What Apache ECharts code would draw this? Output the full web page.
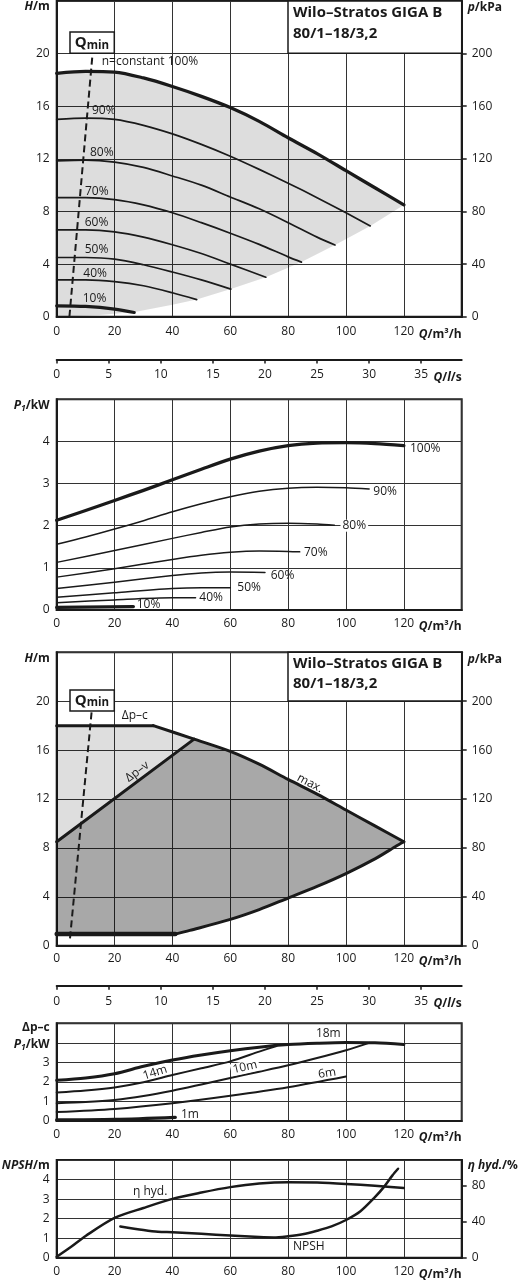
<!DOCTYPE html>
<html><head><meta charset="utf-8">
<script src="https://cdn.jsdelivr.net/npm/echarts@6/dist/echarts.min.js"></script>
<style>html,body{margin:0;padding:0;background:#fff}#c{width:525px;height:1280px}</style>
</head><body><div id="c"></div>
<script>
// ---------- tick labels ----------
const qM3hTicks = [0, 20, 40, 60, 80, 100, 120];
const qLsTicks = [0, 5, 10, 15, 20, 25, 30, 35];
const hTicks = [0, 4, 8, 12, 16, 20];
const kPaTicks = [0, 40, 80, 120, 160, 200];
const p1Ticks = [0, 1, 2, 3, 4];
const p1SmallTicks = [0, 1, 2, 3];
const npshTicks = [0, 1, 2, 3, 4];
const etaTicks = [0, 40, 80];

// ---------- chart 1: H over Q for speeds (Q m3/h, H m) ----------
const h100 = [[0,18.5],[10,18.65],[20,18.6],[30,18.15],[40,17.5],[50,16.75],[60,15.9],[70,14.85],[80,13.6],[90,12.4],[100,11.1],[110,9.8],[120,8.5]];
const h90 = [[0,15.0],[10,15.1],[20,15.0],[30,14.55],[40,13.9],[50,13.1],[60,12.2],[70,11.2],[80,10.15],[90,9.05],[100,7.9],[108.4,6.9]];
const h80 = [[0,11.85],[10,11.9],[20,11.75],[30,11.35],[40,10.7],[50,10.0],[60,9.1],[70,8.2],[80,7.15],[90,6.05],[96.2,5.45]];
const h70 = [[0,9.05],[10,9.05],[20,8.9],[30,8.5],[40,7.9],[50,7.15],[60,6.35],[70,5.5],[80,4.55],[84.6,4.15]];
const h60 = [[0,6.6],[10,6.6],[20,6.45],[30,6.05],[40,5.47],[50,4.8],[60,4.0],[72.3,3.0]];
const h50 = [[0,4.5],[10,4.5],[20,4.38],[30,3.95],[40,3.4],[50,2.8],[60.2,2.1]];
const h40 = [[0,2.8],[10,2.8],[20,2.67],[30,2.35],[40,1.82],[48.4,1.3]];
const h10 = [[0,0.83],[10,0.78],[20,0.58],[26.8,0.32]];
const sysLower = [[0,0],[15,0.12],[27,0.35],[40,0.9],[48.4,1.3],[60.2,2.1],[72.3,3.0],[84.6,4.15],[96.2,5.45],[108.4,6.9],[120,8.5]];
const qmin1 = [[4.4,0],[12.4,20]];

// ---------- chart 2: P1 over Q for speeds (kW) ----------
const p100 = [[0,2.13],[10,2.36],[20,2.6],[30,2.84],[40,3.09],[50,3.34],[60,3.58],[70,3.77],[80,3.9],[90,3.96],[100,3.97],[110,3.95],[120,3.9]];
const p90 = [[0,1.56],[10,1.73],[20,1.92],[30,2.12],[40,2.33],[50,2.52],[60,2.69],[70,2.82],[80,2.89],[90,2.91],[100,2.9],[108,2.87]];
const p80 = [[0,1.13],[20,1.41],[40,1.7],[50,1.84],[60,1.97],[70,2.04],[80,2.06],[90,2.04],[96,2.01]];
const p70 = [[0,0.78],[20,0.98],[40,1.2],[50,1.3],[60,1.37],[70,1.4],[80,1.39],[84,1.38]];
const p60 = [[0,0.51],[20,0.66],[40,0.82],[50,0.88],[60,0.9],[72,0.89]];
const p50 = [[0,0.3],[20,0.41],[40,0.51],[50,0.53],[60,0.53]];
const p40 = [[0,0.17],[20,0.24],[40,0.29],[48,0.29]];
const p10 = [[0,0.06],[26.5,0.08]];

// ---------- chart 3: control modes ----------
const dpcLine = [[0,18],[33.4,18]];
const maxLine = [[33.4,18],[47.5,16.9],[60,15.9],[70,14.85],[80,13.6],[90,12.4],[100,11.1],[110,9.8],[120,8.5]];
const dpvLine = [[0,8.5],[47.5,16.9]];
const lowerLine = [[41,0.95],[46,1.25],[60,2.15],[70,2.95],[80,3.9],[90,4.85],[100,5.9],[110,7.1],[117,8.1],[120,8.5]];
const minLine = [[0,0.95],[41,0.95]];
const qmin3 = [[4.6,0.6],[12.1,19.2]];

// ---------- chart 4: P1 for dp-c setpoints ----------
const c18 = [[0,2.08],[10,2.2],[20,2.42],[30,2.8],[40,3.12],[50,3.38],[60,3.6],[70,3.78],[80,3.91],[90,3.98],[100,4.02],[110,4.0],[120,3.91]];
const c14 = [[0,1.46],[10,1.56],[20,1.72],[30,1.98],[40,2.35],[50,2.7],[60,3.05],[70,3.55],[76,3.84]];
const c10 = [[0,0.91],[10,0.97],[20,1.08],[30,1.28],[40,1.55],[50,1.87],[60,2.2],[70,2.52],[80,2.85],[90,3.22],[100,3.62],[108,4.0]];
const c6 = [[0,0.46],[20,0.62],[40,0.91],[60,1.29],[80,1.73],[100,2.28]];
const c1 = [[0,0.05],[20,0.08],[41,0.19]];

// ---------- chart 5: NPSH (m) and hydraulic efficiency (%) ----------
const npsh = [[22,1.6],[30,1.42],[35,1.33],[40,1.3],[50,1.22],[60,1.13],[70,1.06],[75,1.04],[80,1.1],[85,1.2],[90,1.38],[95,1.6],[100,1.93],[105,2.38],[110,3.1],[113,3.6],[116,4.2],[118,4.55]];
const etaHyd = [[0,1],[5,12],[10,24],[20,44],[30,55],[40,65],[50,72],[60,78],[70,82],[80,83.5],[90,83],[100,81.5],[110,79.5],[120,77]];

// ---------- styling ----------
const FONT = '"Open Sans", "Noto Sans", sans-serif';
const ink = '#1a1a1a';
const gridCol = '#333';
const L = 56.7, W = 405;
const RB = {fontFamily: FONT, fontWeight: 'bold', fontSize: 12, color: ink, lineHeight: 17};
const RICH = {
  i: Object.assign({}, RB, {fontStyle: 'italic'}),
  b: RB,
  s: Object.assign({}, RB, {fontStyle: 'italic', fontSize: 8.5, padding: [5, 0, 0, 0]})
};
const only = arr => v => (arr.indexOf(Math.round(v * 1000) / 1000) >= 0 ? String(v) : '');

function qAxis(gi, pad) {
  return {
    gridIndex: gi, type: 'value', min: 0, max: 140, interval: 20,
    axisLine: {show: true, onZero: false, lineStyle: {color: ink, width: 2}},
    axisTick: {show: false},
    axisLabel: {fontFamily: FONT, fontSize: 12, color: ink, margin: pad, formatter: only(qM3hTicks), showMaxLabel: true},
    splitLine: {show: true, lineStyle: {color: gridCol, width: 1}},
    name: '{i|Q}{b|/m³/h}', nameLocation: 'end', nameGap: 0, nameMoveOverlap: false,
    nameTextStyle: {align: 'right', verticalAlign: 'top', padding: [pad, 0, 0, 0], rich: RICH}
  };
}
function lsAxis(gi) {
  return {
    gridIndex: gi, type: 'value', min: 0, max: 140 / 3.6, interval: 5,
    axisLine: {show: true, onZero: false, lineStyle: {color: ink, width: 2}},
    axisTick: {show: true, inside: false, length: 4, lineStyle: {color: ink, width: 1.5}, customValues: qLsTicks},
    axisLabel: {fontFamily: FONT, fontSize: 12, color: ink, margin: 9.5, formatter: only(qLsTicks)},
    splitLine: {show: false},
    name: '{i|Q}{b|/}{i|l}{b|/s}', nameLocation: 'end', nameGap: 0, nameMoveOverlap: false,
    nameTextStyle: {align: 'right', verticalAlign: 'top', padding: [9.5, 0, 0, 0], rich: RICH}
  };
}
function yLeft(gi, max, interval, ticks, name, gap, vAlign) {
  return {
    gridIndex: gi, type: 'value', position: 'left', min: 0, max: max, interval: interval,
    axisLine: {show: true, onZero: false, lineStyle: {color: ink, width: 2}},
    axisTick: {show: false},
    axisLabel: {fontFamily: FONT, fontSize: 12, color: ink, margin: 7, formatter: only(ticks)},
    splitLine: {show: true, lineStyle: {color: gridCol, width: 1}},
    name: name, nameLocation: 'end', nameGap: gap, nameMoveOverlap: false,
    nameTextStyle: {align: 'right', verticalAlign: vAlign || 'middle', padding: [0, 7, 0, 0], rich: RICH}
  };
}
function yRight(gi, max, interval, ticks, name, gap) {
  return {
    gridIndex: gi, type: 'value', position: 'right', min: 0, max: max, interval: interval,
    axisLine: {show: true, onZero: false, lineStyle: {color: ink, width: 2}},
    axisTick: {show: true, inside: false, length: 5, lineStyle: {color: ink, width: 1.5}, customValues: ticks},
    axisLabel: {fontFamily: FONT, fontSize: 12, color: ink, margin: 10, formatter: only(ticks)},
    splitLine: {show: false},
    name: name, nameLocation: 'end', nameGap: gap, nameMoveOverlap: false,
    nameTextStyle: {align: 'left', verticalAlign: 'middle', padding: [0, 0, 0, 6], rich: RICH}
  };
}
function hiddenY(gi) { return {gridIndex: gi, type: 'value', show: false, min: 0, max: 1}; }

function line(xi, yi, data, w, extra) {
  return Object.assign({
    type: 'line', xAxisIndex: xi, yAxisIndex: yi, data: data, showSymbol: false, symbol: 'none',
    smooth: 0.3, silent: true, z: 5, animation: false,
    lineStyle: {color: ink, width: w, cap: 'round', join: 'round'}
  }, extra || {});
}
function poly(xi, yi, pts, fill) {
  return {
    type: 'custom', xAxisIndex: xi, yAxisIndex: yi, silent: true, z: 2, animation: false,
    data: pts,
    renderItem: function (params, api) {
      if (params.dataIndex !== 0) return null;
      return {type: 'polygon', shape: {points: pts.map(p => api.coord(p))}, style: {fill: fill}};
    }
  };
}

const grayPoly = h100.concat(sysLower.slice().reverse());
const lightPoly = [dpcLine[0], dpcLine[1], dpvLine[1], dpvLine[0]];
const darkPoly = dpvLine.concat(maxLine.slice(2), lowerLine.slice().reverse(), minLine.slice().reverse());

function txt(x, y, s, o) {
  o = o || {};
  const st = {
    text: s, fontFamily: FONT, fontSize: o.size || 12, fontWeight: o.weight || 'normal', fill: ink,
    align: o.align || 'left', verticalAlign: o.va || 'middle', textAlign: o.align || 'left', textVerticalAlign: o.va || 'middle'
  };
  if (o.lh) st.lineHeight = o.lh;
  if (o.bg) { st.backgroundColor = o.bg; st.padding = [0, 2, 0, 2]; }
  if (o.rich) st.rich = o.rich;
  return {type: 'text', x: x, y: y, rotation: o.rot || 0, z: 110, silent: true, style: st};
}
function box(x, y, w, h) {
  return {type: 'rect', z: 100, silent: true, shape: {x: x, y: y, width: w, height: h}, style: {fill: '#fff', stroke: ink, lineWidth: 1.5}};
}
const QMIN_RICH = {
  q: {fontFamily: FONT, fontWeight: 'bold', fontSize: 15, fill: ink, color: ink},
  m: {fontFamily: FONT, fontWeight: 'bold', fontSize: 11.5, fill: ink, color: ink, padding: [5, 0, 0, 0]}
};
const TITLE = 'Wilo–Stratos GIGA B\n80/1–18/3,2';

const graphics = [
  // chart 1
  box(288, 1, 173.7, 52.3),
  txt(293, 2.5, TITLE, {size: 15, weight: 'bold', va: 'top', lh: 20.5}),
  box(70, 32, 44.3, 21.3),
  txt(92, 43, '{q|Q}{m|min}', {align: 'center', rich: QMIN_RICH}),
  txt(101.7, 61.7, 'n=constant 100%'),
  txt(92, 110.7, '90%'), txt(90, 152.7, '80%'), txt(85, 192, '70%'), txt(84.7, 222.7, '60%'),
  txt(84.7, 250, '50%'), txt(83.3, 273.3, '40%'), txt(82.7, 299, '10%'),
  // chart 2
  txt(410, 449, '100%'), txt(373.3, 491.7, '90%'), txt(340.5, 525.7, '80%', {bg: '#fff'}),
  txt(304, 552.7, '70%'), txt(270.7, 575.7, '60%'), txt(237.3, 587.7, '50%'),
  txt(199.3, 597.3, '40%'), txt(136.7, 605, '10%'),
  // chart 3
  box(288, 652.3, 173.7, 48.7),
  txt(293, 654, TITLE, {size: 15, weight: 'bold', va: 'top', lh: 19.5}),
  box(70, 690, 44.3, 21),
  txt(92, 700.5, '{q|Q}{m|min}', {align: 'center', rich: QMIN_RICH}),
  txt(121.7, 716, 'Δp–c'),
  txt(137.3, 771.7, 'Δp–v', {align: 'center', rot: 0.642}),
  txt(310, 783.3, 'max.', {align: 'center', rot: -0.487}),
  // chart 4
  txt(328.3, 1033.3, '18m', {align: 'center'}),
  txt(155, 1072.7, '14m', {align: 'center', rot: 0.3}),
  txt(245, 1067.3, '10m', {align: 'center', rot: 0.22, bg: '#fff'}),
  txt(327, 1073.3, '6m', {align: 'center', rot: 0.15}),
  txt(181, 1114.3, '1m'),
  // chart 5
  txt(133, 1191.7, 'η hyd.'),
  txt(293, 1247, 'NPSH')
];

const gridBase = {left: L, width: W, show: true, borderColor: ink, borderWidth: 2, backgroundColor: 'transparent', outerBoundsMode: 'none', containLabel: false};
const g = (top, height, show) => Object.assign({}, gridBase, {top: top, height: height, show: show !== false});

const option = {
  animation: false,
  backgroundColor: '#fff',
  textStyle: {fontFamily: FONT},
  grid: [
    g(1, 315.7), g(358.5, 1, false), g(399.3, 210.7), g(652.3, 293.4), g(984.7, 1, false), g(1023.3, 97.7), g(1160, 97.7)
  ],
  xAxis: [qAxis(0, 9), lsAxis(1), qAxis(2, 8), qAxis(3, 7), lsAxis(4), qAxis(5, 8), qAxis(6, 8)],
  yAxis: [
    yLeft(0, 24, 4, hTicks, '{i|H}{b|/m}', -6),
    yRight(0, 240, 40, kPaTicks, '{i|p}{b|/kPa}', -7),
    hiddenY(1),
    yLeft(2, 5, 1, p1Ticks, '{i|P}{s|1}{b|/kW}', -6.7),
    yLeft(3, 24, 4, hTicks, '{i|H}{b|/m}', -6),
    yRight(3, 240, 40, kPaTicks, '{i|p}{b|/kPa}', -7.7),
    hiddenY(4),
    yLeft(5, 5, 1, p1SmallTicks, '{b|Δp–c}\n{i|P}{s|1}{b|/kW}', 4, 'top'),
    yLeft(6, 5, 1, npshTicks, '{i|NPSH}{b|/m}', -6),
    yRight(6, 108, 40, etaTicks, '{i|η hyd.}{b|/%}', -6)
  ],
  series: [
    // chart 1
    poly(0, 0, grayPoly, 'rgba(0,0,0,0.135)'),
    line(0, 0, h100, 3.3),
    line(0, 0, h90, 1.7), line(0, 0, h80, 1.7), line(0, 0, h70, 1.7), line(0, 0, h60, 1.7),
    line(0, 0, h50, 1.7), line(0, 0, h40, 1.7), line(0, 0, h10, 3.2),
    line(0, 0, qmin1, 2, {smooth: false, lineStyle: {color: ink, width: 2, type: [7, 4]}}),
    // chart 2
    line(2, 3, p100, 3.3), line(2, 3, p90, 1.5), line(2, 3, p80, 1.5), line(2, 3, p70, 1.5),
    line(2, 3, p60, 1.5), line(2, 3, p50, 1.5), line(2, 3, p40, 1.5), line(2, 3, p10, 3.3),
    // chart 3
    poly(3, 4, lightPoly, 'rgba(0,0,0,0.13)'),
    poly(3, 4, darkPoly, 'rgba(0,0,0,0.34)'),
    line(3, 4, dpcLine, 3, {smooth: false}),
    line(3, 4, maxLine, 3),
    line(3, 4, dpvLine, 3, {smooth: false}),
    line(3, 4, lowerLine, 3),
    line(3, 4, minLine, 4.5, {smooth: false}),
    line(3, 4, qmin3, 2, {smooth: false, lineStyle: {color: ink, width: 2, type: [7, 4]}}),
    // chart 4
    line(5, 7, c18, 3), line(5, 7, c14, 2), line(5, 7, c10, 2), line(5, 7, c6, 2), line(5, 7, c1, 3.3),
    // chart 5
    line(6, 8, npsh, 2.5),
    line(6, 9, etaHyd, 2.5)
  ],
  graphic: {elements: graphics}
};

const chart = echarts.init(document.getElementById('c'), null, {renderer: 'canvas', width: 525, height: 1280});
chart.setOption(option);
</script>
</body></html>
